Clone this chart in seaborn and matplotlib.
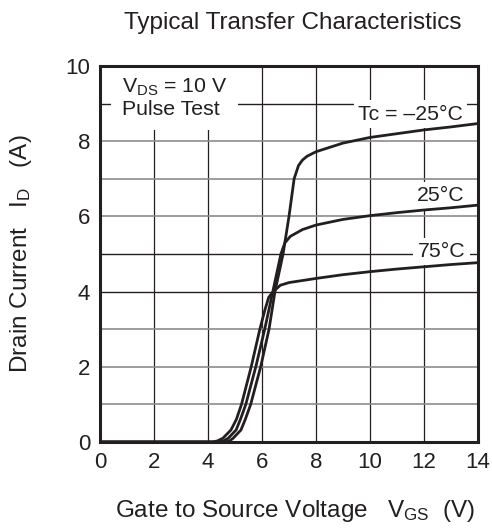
import numpy as np
import pandas as pd
import matplotlib
matplotlib.use("Agg")
import matplotlib.pyplot as plt
import seaborn as sns

# Curve readings (V_GS in V, I_D in A)
vgs_m25 = [0, 4.66, 4.8, 4.93, 5.22, 5.38, 5.58, 5.95, 6.26, 6.48, 6.78, 7.0, 7.19, 7.35, 7.5, 7.67, 8.0, 9, 10, 11, 12, 13, 14]
id_m25 = [0, 0, 0.03, 0.1, 0.32, 0.6, 1.0, 2.0, 3.0, 4.0, 5.0, 6.0, 7.0, 7.35, 7.5, 7.6, 7.72, 7.95, 8.1, 8.2, 8.3, 8.38, 8.47]

vgs_25 = [0, 4.41, 4.58, 4.75, 5.04, 5.2, 5.4, 5.77, 6.1, 6.4, 6.7, 6.85, 7.05, 7.5, 8, 9, 10, 11, 12, 13, 14]
id_25 = [0, 0, 0.03, 0.1, 0.32, 0.6, 1.0, 2.0, 3.0, 4.0, 5.0, 5.3, 5.47, 5.65, 5.77, 5.92, 6.02, 6.1, 6.17, 6.23, 6.3]

vgs_75 = [0, 4.17, 4.35, 4.55, 4.85, 5.05, 5.24, 5.6, 5.92, 6.11, 6.25, 6.42, 6.68, 7, 8, 9, 10, 11, 12, 13, 14]
id_75 = [0, 0, 0.03, 0.1, 0.32, 0.6, 1.0, 2.0, 3.0, 3.52, 3.85, 4.0, 4.17, 4.24, 4.35, 4.45, 4.53, 4.6, 4.66, 4.72, 4.77]

temps = ["-25", "25", "75"]

df = pd.concat([
    pd.DataFrame({"vgs": vgs_m25, "id": id_m25, "tc": "-25"}),
    pd.DataFrame({"vgs": vgs_25, "id": id_25, "tc": "25"}),
    pd.DataFrame({"vgs": vgs_75, "id": id_75, "tc": "75"}),
])

sns.set_style("white")
plt.rcParams["font.family"] = ["Liberation Sans", "DejaVu Sans"]
plt.rcParams["mathtext.fontset"] = "custom"
plt.rcParams["mathtext.rm"] = "Liberation Sans"

ink = "#231f20"
fs = 17.5
fs_note = 15.3
fig = plt.figure(figsize=(4.92, 5.31), dpi=100)
ax = fig.add_axes([0.2033, 0.1676, 0.7682, 0.7081])

sns.lineplot(data=df, x="vgs", y="id", hue="tc", hue_order=temps,
             palette=[ink] * 3, linewidth=2.0, sort=False, legend=False,
             estimator=None, ax=ax, zorder=3)
for ln in ax.lines:
    ln.set_solid_joinstyle("round")
    ln.set_solid_capstyle("round")

ax.set_xlim(0, 14)
ax.set_ylim(0, 10)
ax.set_xticks(np.arange(0, 15, 2))
ax.set_yticks(np.arange(0, 11, 2))
ax.grid(True, which="major", axis="x", color=ink, linewidth=0.9)
# horizontal rules: some print darker than others in the original
for lvl in range(1, 10):
    col = ink if lvl in (4, 5, 9) else "#8c8c8c"
    ax.axhline(lvl, color=col, linewidth=1.0 if lvl in (4, 5, 9) else 1.2, zorder=1)
ax.tick_params(axis="both", which="both", length=0, labelsize=16, colors=ink)
ax.tick_params(axis="x", pad=7)
ax.tick_params(axis="y", pad=7)
for sp in ax.spines.values():
    sp.set_linewidth(2.2)
    sp.set_color(ink)

ax.set_xlabel(r"Gate to Source Voltage   $\mathrm{V_{GS}}$  (V)", fontsize=fs, color=ink)
ax.xaxis.set_label_coords(0.515, -0.15)
ax.set_ylabel(r"Drain Current   $\mathrm{I_D}$   (A)", fontsize=fs, color=ink)
ax.yaxis.set_label_coords(-0.175, 0.5)
ax.set_title("Typical Transfer Characteristics", fontsize=fs, color=ink, pad=27, x=0.51)

box = dict(facecolor="white", edgecolor="none", pad=3)
ax.text(0.8, 9.72, "$\\mathrm{V_{DS}}$ = 10 V\nPulse Test", fontsize=fs_note, color=ink,
        va="top", ha="left", linespacing=1.15, bbox=dict(facecolor="white", edgecolor="none", pad=8), zorder=2)
ax.text(11.5, 8.72, "Tc = \u201325\u00b0C", fontsize=fs_note, color=ink, ha="center", va="center", bbox=box, zorder=2)
ax.text(12.63, 6.55, "25\u00b0C", fontsize=fs_note, color=ink, ha="center", va="center", bbox=box, zorder=2)
ax.text(12.65, 5.07, "75\u00b0C", fontsize=fs_note, color=ink, ha="center", va="center", bbox=box, zorder=2)

fig.savefig("out.png", dpi=100)
